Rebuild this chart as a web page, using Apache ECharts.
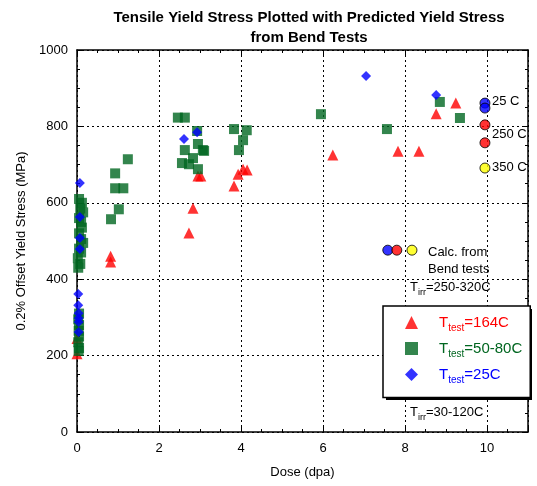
<!DOCTYPE html>
<html><head><meta charset="utf-8">
<script src="https://cdn.jsdelivr.net/npm/echarts@6/dist/echarts.min.js"></script>
<style>html,body{margin:0;padding:0;background:#fff}#c{width:537px;height:486px}</style>
</head><body><div id="c"></div>
<script>
// Data: [dose (dpa), 0.2% offset yield stress (MPa)]
const test164C = [[0.0,245],[0.0,205],[0.82,460],[0.82,445],[2.73,521],[2.83,586],[2.95,670],[3.02,670],
  [3.83,644],[3.93,675],[4.05,688],[4.15,686],[6.24,725],[7.83,735],[8.34,735],[8.76,833],[9.24,861]];
const test50_80C = [[0.05,610],[0.12,600],[0.08,585],[0.15,575],[0.05,560],[0.1,550],[0.12,535],[0.05,520],
  [0.1,505],[0.15,495],[0.05,480],[0.1,470],[0.02,455],[0.08,440],[0.03,430],
  [0.05,310],[0.03,295],[0.05,280],[0.04,265],[0.05,250],[0.03,235],[0.05,220],[0.04,212],
  [0.83,557],[1.02,583],[0.93,638],[1.13,638],[0.93,677],[1.24,714],
  [2.46,823],[2.63,823],[2.93,788],[2.63,738],[2.95,754],[3.1,736],[2.56,704],[2.73,701],[2.83,717],[2.95,688],
  [3.83,793],[4.14,790],[4.05,764],[3.95,738],[3.07,738],[5.95,832],[7.56,793],[8.85,864],[9.34,822]];
const test25C = [[0.07,652],[0.07,563],[0.07,508],[0.07,479],[0.03,361],[0.03,332],[0.04,311],[0.04,298],
  [0.04,288],[0.04,262],[2.61,767],[2.93,785],[7.05,932],[8.76,882]];
const bend25C = [[9.95,861],[9.95,848],[7.58,476]];
const bend250C = [[9.95,804],[9.95,757],[7.8,476]];
const bend350C = [[9.95,691],[8.17,476]];
const xTicks = [0,2,4,6,8,10];
const yTicks = [0,200,400,600,800,1000];

const FONT = 'Liberation Sans, Arial, sans-serif';
const chart = echarts.init(document.getElementById('c'));
const grid = {left:77, right:9, top:50, bottom:54};
const splitStyle = {show:true, lineStyle:{color:'#000', type:[2,3], width:1}};
const axisLine = {show:true, onZero:false, lineStyle:{color:'#000', width:1.5}};

function richFor(color){
  return {
    p:{fontSize:15, color:color, fontFamily:FONT, padding:[0,0,0,16]},
    a:{fontSize:15, color:color, fontFamily:FONT},
    b:{fontSize:10, color:color, fontFamily:FONT, padding:[12,0,0,0]}
  };
}

chart.setOption({
  animation:false,
  title:{text:'Tensile Yield Stress Plotted with Predicted Yield Stress\nfrom Bend Tests', left:304, top:3, textAlign:'center',
    textStyle:{fontFamily:FONT, fontWeight:'bold', fontSize:15, lineHeight:20, color:'#000'}},
  grid:grid,
  legend:{
    orient:'vertical', left:383, top:306, padding:[9,8,12,22], itemGap:7.5, itemWidth:13, itemHeight:13,
    backgroundColor:'#fff', borderColor:'#000', borderWidth:1.5, borderRadius:0, z:6,
    data:[
      {name:'T164', icon:'triangle', textStyle:{rich:richFor('#ff0000')}},
      {name:'T5080', icon:'rect', textStyle:{rich:richFor('#006620')}},
      {name:'T25', icon:'diamond', textStyle:{rich:richFor('#0000ff')}}
    ],
    formatter: function(n){
      if(n==='T164') return '{p|T}{b|test}{a|=164C}';
      if(n==='T5080') return '{p|T}{b|test}{a|=50-80C}';
      return '{p|T}{b|test}{a|=25C}';
    }
  },
  xAxis:[{
    type:'value', min:0, max:11, interval:2, position:'bottom',
    name:'Dose (dpa)', nameLocation:'middle', nameGap:34,
    nameTextStyle:{fontFamily:FONT, fontSize:13, color:'#000'},
    axisLine:axisLine, axisTick:{show:true, inside:true, length:6, lineStyle:{color:'#000'}},
    minorTick:{show:true, splitNumber:4, length:3, lineStyle:{color:'#000'}},
    axisLabel:{fontFamily:FONT, fontSize:13, color:'#000', margin:10,
      formatter:v=> xTicks.includes(v)? String(v):''},
    splitLine:splitStyle
  },{
    type:'value', min:0, max:11, interval:2, position:'top',
    axisLine:axisLine, axisTick:{show:true, inside:true, length:6, lineStyle:{color:'#000'}},
    minorTick:{show:true, splitNumber:4, length:3, lineStyle:{color:'#000'}},
    axisLabel:{show:false}, splitLine:{show:false}
  }],
  yAxis:[{
    type:'value', min:0, max:1000, interval:200, position:'left',
    name:'0.2% Offset Yield Stress (MPa)', nameLocation:'middle', nameGap:48,
    nameTextStyle:{fontFamily:FONT, fontSize:13, color:'#000'},
    axisLine:axisLine, axisTick:{show:true, inside:true, length:6, lineStyle:{color:'#000'}},
    minorTick:{show:true, splitNumber:4, length:3, lineStyle:{color:'#000'}},
    axisLabel:{fontFamily:FONT, fontSize:13, color:'#000', margin:9,
      formatter:v=> yTicks.includes(v)? String(v):''},
    splitLine:splitStyle
  },{
    type:'value', min:0, max:1000, interval:200, position:'right',
    axisLine:axisLine, axisTick:{show:true, inside:true, length:6, lineStyle:{color:'#000'}},
    minorTick:{show:true, splitNumber:4, length:3, lineStyle:{color:'#000'}},
    axisLabel:{show:false}, splitLine:{show:false}
  }],
  series:[
    {name:'T164', type:'scatter', data:test164C, symbol:'triangle', symbolSize:11, itemStyle:{color:'#ff0000'}, z:2},
    {name:'T5080', type:'scatter', data:test50_80C, symbol:'rect', symbolSize:10, itemStyle:{color:'#006620'}, z:3},
    {name:'T25', type:'scatter', data:test25C, symbol:'diamond', symbolSize:[10,10], itemStyle:{color:'#0000ff'}, z:4},
    {name:'b25', type:'scatter', data:bend25C, symbol:'circle', symbolSize:10, itemStyle:{color:'#0000ff', borderColor:'#000', borderWidth:1}, z:5},
    {name:'b250', type:'scatter', data:bend250C, symbol:'circle', symbolSize:10, itemStyle:{color:'#ff0000', borderColor:'#000', borderWidth:1}, z:5},
    {name:'b350', type:'scatter', data:bend350C, symbol:'circle', symbolSize:10, itemStyle:{color:'#ffff00', borderColor:'#000', borderWidth:1}, z:5}
  ],
  graphic:[
    {type:'rect', left:386, top:309, z:5, shape:{width:146, height:91}, style:{fill:'#000'}},
    {type:'text', left:492, top:95, style:{text:'25 C', font:'13px '+FONT, fill:'#000'}},
    {type:'text', left:492, top:128, style:{text:'250 C', font:'13px '+FONT, fill:'#000'}},
    {type:'text', left:492, top:161, style:{text:'350 C', font:'13px '+FONT, fill:'#000'}},
    {type:'text', left:428, top:244, style:{text:'Calc. from\nBend tests', font:'13px '+FONT, lineHeight:17, fill:'#000'}},
    {type:'text', left:410, top:281, style:{text:'{a|T}{b|irr}{a|=250-320C}',
      rich:{a:{fontSize:13, fontFamily:FONT, fill:'#000'}, b:{fontSize:9, fontFamily:FONT, fill:'#000', padding:[11,0,0,0]}}}},
    {type:'text', left:410, top:406, style:{text:'{a|T}{b|irr}{a|=30-120C}',
      rich:{a:{fontSize:13, fontFamily:FONT, fill:'#000'}, b:{fontSize:9, fontFamily:FONT, fill:'#000', padding:[11,0,0,0]}}}}
  ]
});
</script></body></html>
